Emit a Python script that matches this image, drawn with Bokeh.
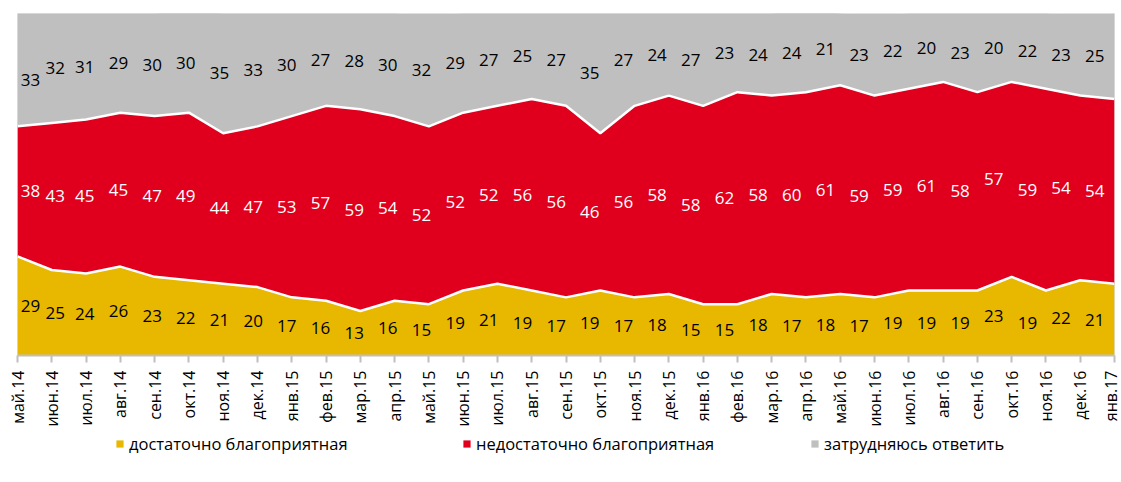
from bokeh.plotting import figure
from bokeh.models import ColumnDataSource, FixedTicker, Range1d, Legend, LegendItem
from bokeh.layouts import column
from bokeh.core.properties import value
from bokeh.embed import file_html
from bokeh.resources import INLINE
import math

categories = ["май.14", "июн.14", "июл.14", "авг.14", "сен.14", "окт.14", "ноя.14", "дек.14",
              "янв.15", "фев.15", "мар.15", "апр.15", "май.15", "июн.15", "июл.15", "авг.15",
              "сен.15", "окт.15", "ноя.15", "дек.15", "янв.16", "фев.16", "мар.16", "апр.16",
              "май.16", "июн.16", "июл.16", "авг.16", "сен.16", "окт.16", "ноя.16", "дек.16", "янв.17"]
favorable = [29, 25, 24, 26, 23, 22, 21, 20, 17, 16, 13, 16, 15, 19, 21, 19, 17, 19, 17, 18, 15, 15,
             18, 17, 18, 17, 19, 19, 19, 23, 19, 22, 21]
unfavorable = [38, 43, 45, 45, 47, 49, 44, 47, 53, 57, 59, 54, 52, 52, 52, 56, 56, 46, 56, 58, 58, 62,
               58, 60, 61, 59, 59, 61, 58, 57, 59, 54, 54]
undecided = [33, 32, 31, 29, 30, 30, 35, 33, 30, 27, 28, 30, 32, 29, 27, 25, 27, 35, 27, 24, 27, 23,
             24, 24, 21, 23, 22, 20, 23, 20, 22, 23, 25]
series_names = ["достаточно благоприятная", "недостаточно благоприятная", "затрудняюсь ответить"]

YELLOW = "#E8B800"
RED = "#E0001E"
GRAY = "#BFBFBF"
FONT = "Open Sans"

n = len(categories)
x = list(range(n))
top1 = favorable[:]
top2 = [a + b for a, b in zip(favorable, unfavorable)]
top3 = [a + b for a, b in zip(top2, undecided)]

MAIN_H = 430
p = figure(width=1121, height=MAIN_H, output_backend="svg", toolbar_location=None,
           x_range=Range1d(0, n - 1), y_range=Range1d(0, 100),
           y_axis_location=None, min_border_left=17, min_border_right=7,
           min_border_top=13, min_border_bottom=MAIN_H - 355)
p.outline_line_color = None
p.xgrid.visible = False
p.ygrid.visible = False
p.background_fill_color = GRAY
p.border_fill_color = "white"

src = ColumnDataSource(dict(x=x, zero=[0] * n, t1=top1, t2=top2, t3=top3))
p.varea(x="x", y1="zero", y2="t1", source=src, fill_color=YELLOW)
p.varea(x="x", y1="t1", y2="t2", source=src, fill_color=RED)
p.varea(x="x", y1="t2", y2="t3", source=src, fill_color=GRAY)
p.line(x="x", y="t1", source=src, line_color="white", line_width=2.5)
p.line(x="x", y="t2", source=src, line_color="white", line_width=2.5)

# label positions: band centres; labels drift slightly left like the original
lx = [i - 0.018 * i for i in x]
lx[0] = 0.38
lx[1] = 1.1
gy = [a + (100 - a) / 2 for a in top2]
gy[0] -= 3
lab = ColumnDataSource(dict(
    x=lx * 3,
    y=[v / 2 for v in favorable] + [a + b / 2 for a, b in zip(top1, unfavorable)] + gy,
    t=[str(v) for v in favorable + unfavorable + undecided],
    c=["black"] * n + ["white"] * n + ["black"] * n,
))
p.text(x="x", y="y", text="t", source=lab, text_color="c", text_align="center",
       text_baseline="middle", text_font=value(FONT), text_font_size="17px")

ax = p.xaxis[0]
ax.ticker = FixedTicker(ticks=x)
ax.major_label_overrides = {i: c for i, c in enumerate(categories)}
ax.major_label_orientation = math.pi / 2
ax.major_label_text_font = FONT
ax.major_label_text_font_size = "16px"
ax.major_label_text_color = "black"
ax.axis_line_color = GRAY
ax.axis_line_width = 2
ax.major_tick_line_color = GRAY
ax.major_tick_line_width = 2
ax.major_tick_out = 7
ax.major_tick_in = 0
ax.minor_tick_line_color = None
ax.major_label_standoff = 8

# legend strip
LEG_H = 482 - MAIN_H
q = figure(width=1121, height=LEG_H, output_backend="svg", toolbar_location=None,
           x_axis_location=None, y_axis_location=None, min_border=0,
           x_range=Range1d(0, 1), y_range=Range1d(0, 1))
q.outline_line_color = None
q.xgrid.visible = False
q.ygrid.visible = False
dummies = [q.rect(x=[-10], y=[-10], width=1, height=1, fill_color=c, line_color=None)
           for c in (YELLOW, RED, GRAY)]
legend_x = [98, 445, 793]
for r, name, lxp in zip(dummies, series_names, legend_x):
    lg = Legend(items=[LegendItem(label=name, renderers=[r])], location=(lxp, LEG_H - (444 - MAIN_H) - 11),
                orientation="horizontal", glyph_width=9, glyph_height=9, label_standoff=5,
                label_text_font=FONT, label_text_font_size="16.5px", label_text_color="black",
                border_line_color=None, background_fill_alpha=0, padding=0, margin=0)
    q.add_layout(lg, "center")

open("out.html", "w").write(file_html(column(p, q, spacing=0), INLINE))
